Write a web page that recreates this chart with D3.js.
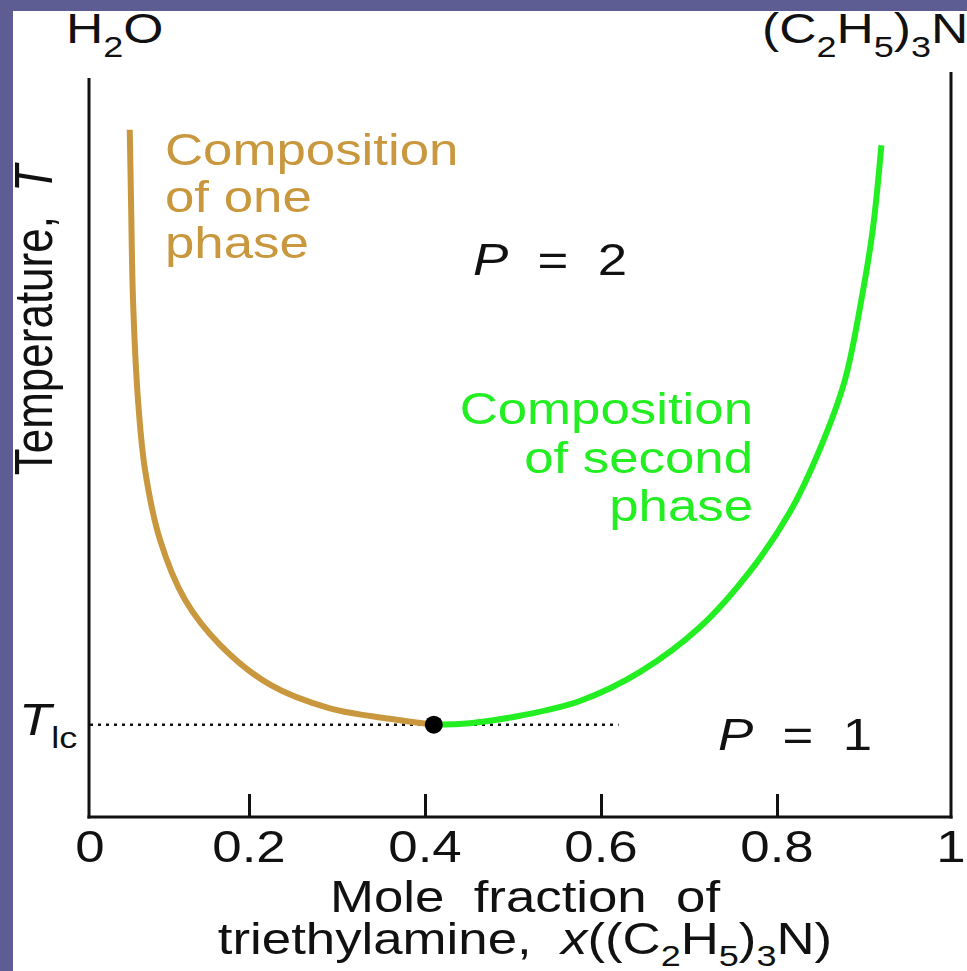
<!DOCTYPE html>
<html>
<head>
<meta charset="utf-8">
<script src="https://cdn.jsdelivr.net/npm/d3@7"></script>
<style>
  html, body { margin: 0; padding: 0; background: #5e5d93; }
  svg { display: block; }
  text { font-family: "Liberation Sans", Arial, Helvetica, sans-serif; white-space: pre; }
</style>
</head>
<body>
<svg id="chart" width="967" height="971"></svg>
<script>
// ---- data ----
const xTicks = [0, 0.2, 0.4, 0.6, 0.8, 1];
const xTickLabels = ["0", "0.2", "0.4", "0.6", "0.8", "1"];
const xTickMarks = [0.2, 0.4, 0.6, 0.8];

// composition of one phase (water-rich branch): mole fraction, temperature (arbitrary units)
const phaseOneX = [0.050, 0.0516, 0.0541, 0.0604, 0.0692, 0.0881, 0.1195, 0.1635, 0.2239, 0.292, 0.360, 0.410];
const phaseOneT = [93.0, 83.5, 70.0, 56.4, 47.0, 37.5, 29.4, 23.3, 17.9, 14.7, 13.3, 12.5];

// composition of second phase (amine-rich branch)
const phaseTwoX = [0.410, 0.451, 0.508, 0.576, 0.644, 0.7125, 0.769, 0.815, 0.849, 0.878, 0.897, 0.910, 0.920];
const phaseTwoT = [12.5, 12.7, 13.7, 15.7, 19.6, 25.7, 33.2, 41.3, 49.7, 59.1, 70.0, 79.4, 90.9];

const criticalX = 0.41;
const criticalT = 12.5;          // T_lc
const tieLineX = [0, 0.62];
const tDomain = [0, 100];

// ---- layout ----
const svg = d3.select("#chart");
const W = 967, H = 971;
const SX = 1.2; // horizontal stretch of the original artwork

svg.append("rect").attr("x", 0).attr("y", 0).attr("width", W).attr("height", H).attr("fill", "#5e5d93");
svg.append("rect").attr("x", 13).attr("y", 11).attr("width", W - 13).attr("height", H - 11).attr("fill", "#ffffff");

const x = d3.scaleLinear().domain([0, 0.2, 0.8, 1]).range([90, 249, 777, 951]);
const y = d3.scaleLinear().domain(tDomain).range([817, 78]);

const axisY0 = y(0);
const g = svg.append("g");

// frame lines
g.append("line").attr("x1", x(0) - 1).attr("x2", x(0) - 1).attr("y1", 78).attr("y2", axisY0 + 1.5)
  .attr("stroke", "#111").attr("stroke-width", 3);
g.append("line").attr("x1", x(1)).attr("x2", x(1)).attr("y1", 72).attr("y2", axisY0 + 1.5)
  .attr("stroke", "#111").attr("stroke-width", 3);

// x axis via d3.axisBottom (ticks drawn inward)
const xAxis = d3.axisBottom(x).tickValues(xTickMarks).tickSize(-23).tickFormat("");
const ax = g.append("g").attr("transform", `translate(0,${axisY0})`).call(xAxis);
ax.select(".domain").attr("d", `M${x(0) - 2.5},0H${x(1) + 1.5}`).attr("stroke", "#111").attr("stroke-width", 3);
ax.selectAll(".tick line").attr("stroke", "#111").attr("stroke-width", 3);

// tick labels
g.selectAll("text.xlab").data(xTicks).enter().append("text")
  .attr("class", "xlab")
  .attr("transform", d => `translate(${x(d)},862) scale(${SX},1)`)
  .attr("text-anchor", "middle").attr("font-size", 44).attr("fill", "#111")
  .text((d, i) => xTickLabels[i]);

// dotted tie line at T_lc
g.append("line")
  .attr("x1", x(tieLineX[0])).attr("x2", x(tieLineX[1]))
  .attr("y1", y(criticalT)).attr("y2", y(criticalT))
  .attr("stroke", "#111").attr("stroke-width", 2.5).attr("stroke-dasharray", "3,5");

// curves
const line = d3.line().x(d => x(d[0])).y(d => y(d[1])).curve(d3.curveCatmullRom.alpha(0.5));
const oneData = phaseOneX.map((v, i) => [v, phaseOneT[i]]);
const twoData = phaseTwoX.map((v, i) => [v, phaseTwoT[i]]);

g.append("path").attr("d", line(oneData)).attr("fill", "none")
  .attr("stroke", "#c9973d").attr("stroke-width", 6);
g.append("path").attr("d", line(twoData)).attr("fill", "none")
  .attr("stroke", "#22ee22").attr("stroke-width", 6);

// critical point
g.append("circle").attr("cx", x(criticalX)).attr("cy", y(criticalT)).attr("r", 9).attr("fill", "#000");

// ---- text ----
function stretchedText(px, py, opts) {
  const t = svg.append("text")
    .attr("transform", `translate(${px},${py}) scale(${SX},1)` + (opts.rotate ? ` rotate(${opts.rotate})` : ""))
    .attr("font-size", opts.size || 44)
    .attr("fill", opts.fill || "#111")
    .attr("text-anchor", opts.anchor || "start");
  return t;
}
function addParts(t, parts) {
  parts.forEach(p => {
    const ts = t.append("tspan").text(p.t);
    if (p.italic) ts.attr("font-style", "italic");
    if (p.sub) { ts.attr("font-size", p.size || 30).attr("dy", p.sub); }
    else if (p.dy) { ts.attr("dy", p.dy); }
  });
  return t;
}

// top labels
addParts(stretchedText(66, 43, { size: 43 }), [
  { t: "H" }, { t: "2", sub: 14, size: 30 }, { t: "O", dy: -14 }
]);
addParts(stretchedText(762, 43, { size: 43 }), [
  { t: "(C" }, { t: "2", sub: 14, size: 30 }, { t: "H", dy: -14 }, { t: "5", sub: 14, size: 30 },
  { t: ")", dy: -14 }, { t: "3", sub: 14, size: 30 }, { t: "N", dy: -14 }
]);

// y axis title
addParts(stretchedText(52, 320, { rotate: -90, anchor: "middle" }), [
  { t: "Temperature,  " }, { t: "T", italic: true }
]);

// T_lc
addParts(stretchedText(19, 735, {}), [
  { t: "T", italic: true }, { t: "lc", sub: 13, size: 30 }
]);

// phase labels
const oneLines = ["Composition", "of one", "phase"];
const oneBase = [165, 212, 258];
oneLines.forEach((s, i) => stretchedText(165, oneBase[i], { fill: "#c9973d" }).text(s));

const twoLines = ["Composition", "of second", "phase"];
const twoBase = [424, 473, 521];
twoLines.forEach((s, i) => stretchedText(753, twoBase[i], { fill: "#22ee22", anchor: "end" }).text(s));

addParts(stretchedText(473, 275, {}), [{ t: "P", italic: true }, { t: "  =  2" }]);
addParts(stretchedText(718, 750, {}), [{ t: "P", italic: true }, { t: "  =  1" }]);

// x title
stretchedText(525, 912, { anchor: "middle" }).text("Mole  fraction  of");
addParts(stretchedText(525, 954, { anchor: "middle" }), [
  { t: "triethylamine,  " }, { t: "x", italic: true }, { t: "((C" },
  { t: "2", sub: 12, size: 30 }, { t: "H", dy: -12 }, { t: "5", sub: 12, size: 30 },
  { t: ")", dy: -12 }, { t: "3", sub: 12, size: 30 }, { t: "N)", dy: -12 }
]);
</script>
</body>
</html>
